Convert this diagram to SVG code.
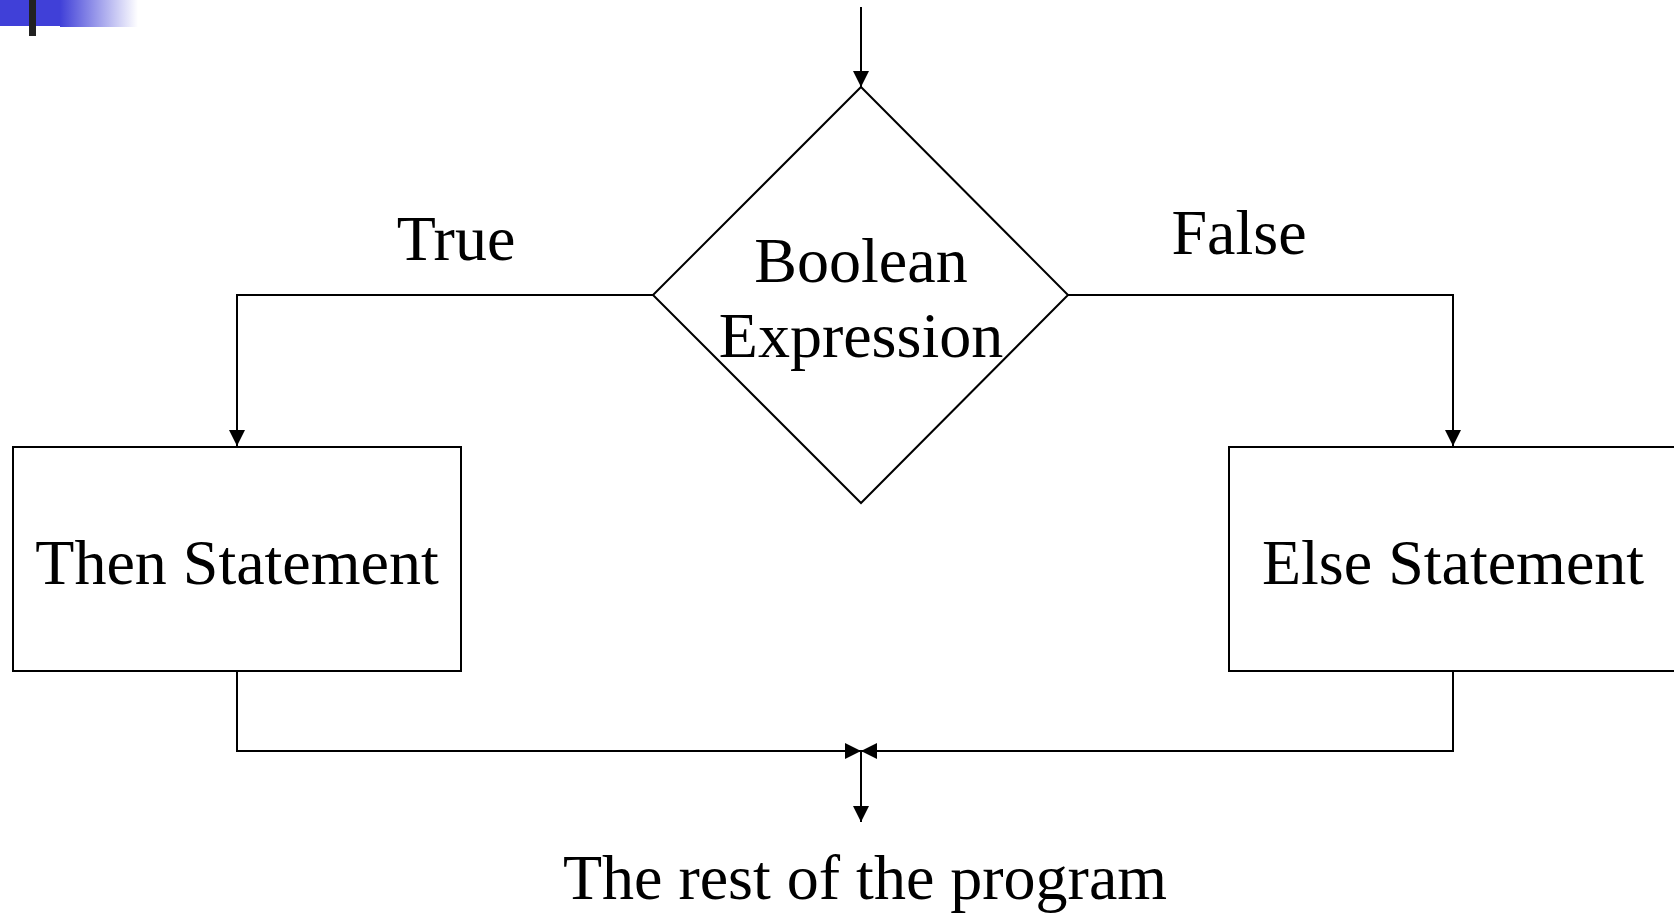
<svg xmlns="http://www.w3.org/2000/svg" width="1674" height="913" viewBox="0 0 1674 913">
<style>
.ln{fill:none;stroke:#000;stroke-width:2}
.shape{fill:#fff;stroke:#000;stroke-width:2}
.t{font-family:"Liberation Serif","Times New Roman",serif;font-size:64px;fill:#000;text-anchor:middle}
</style>
<defs>
<marker id="ah" viewBox="0 0 16 16" refX="16" refY="8" markerWidth="16" markerHeight="16" markerUnits="userSpaceOnUse" orient="auto">
<path d="M0,0 L16,8 L0,16 z" fill="#000"/>
</marker>
<linearGradient id="fade" x1="0" y1="0" x2="1" y2="0">
<stop offset="0" stop-color="#4040d8"/>
<stop offset="1" stop-color="#ffffff"/>
</linearGradient>
</defs>
<rect width="1674" height="913" fill="#fff"/>
<g id="decor">
<rect x="0" y="0" width="60" height="26" fill="#4040d8"/>
<rect x="60" y="0" width="78" height="27" fill="url(#fade)"/>
<rect x="29" y="0" width="7" height="36" fill="#222"/>
</g>
<g id="connectors">
<line class="ln" x1="861" y1="7" x2="861" y2="87" marker-end="url(#ah)"/>
<polyline class="ln" points="653,295 237,295 237,446" marker-end="url(#ah)"/>
<polyline class="ln" points="1068,295 1453,295 1453,446" marker-end="url(#ah)"/>
<polyline class="ln" points="237,671 237,751 861,751" marker-end="url(#ah)"/>
<polyline class="ln" points="1453,671 1453,751 861,751" marker-end="url(#ah)"/>
<line class="ln" x1="861" y1="751" x2="861" y2="822" marker-end="url(#ah)"/>
</g>
<g id="decision">
<polygon class="shape" points="861,87 1068,295 861,503 653,295"/>
<text class="t" x="861" y="282">Boolean</text>
<text class="t" x="861" y="357">Expression</text>
</g>
<g id="then">
<rect class="shape" x="13" y="447" width="448" height="224"/>
<text class="t" x="237" y="584">Then Statement</text>
</g>
<g id="else">
<rect class="shape" x="1229" y="447" width="470" height="224"/>
<text class="t" x="1453" y="584">Else Statement</text>
</g>
<g id="labels">
<text class="t" x="456" y="260">True</text>
<text class="t" x="1239" y="254">False</text>
<text class="t" x="865" y="899">The rest of the program</text>
</g>
</svg>
